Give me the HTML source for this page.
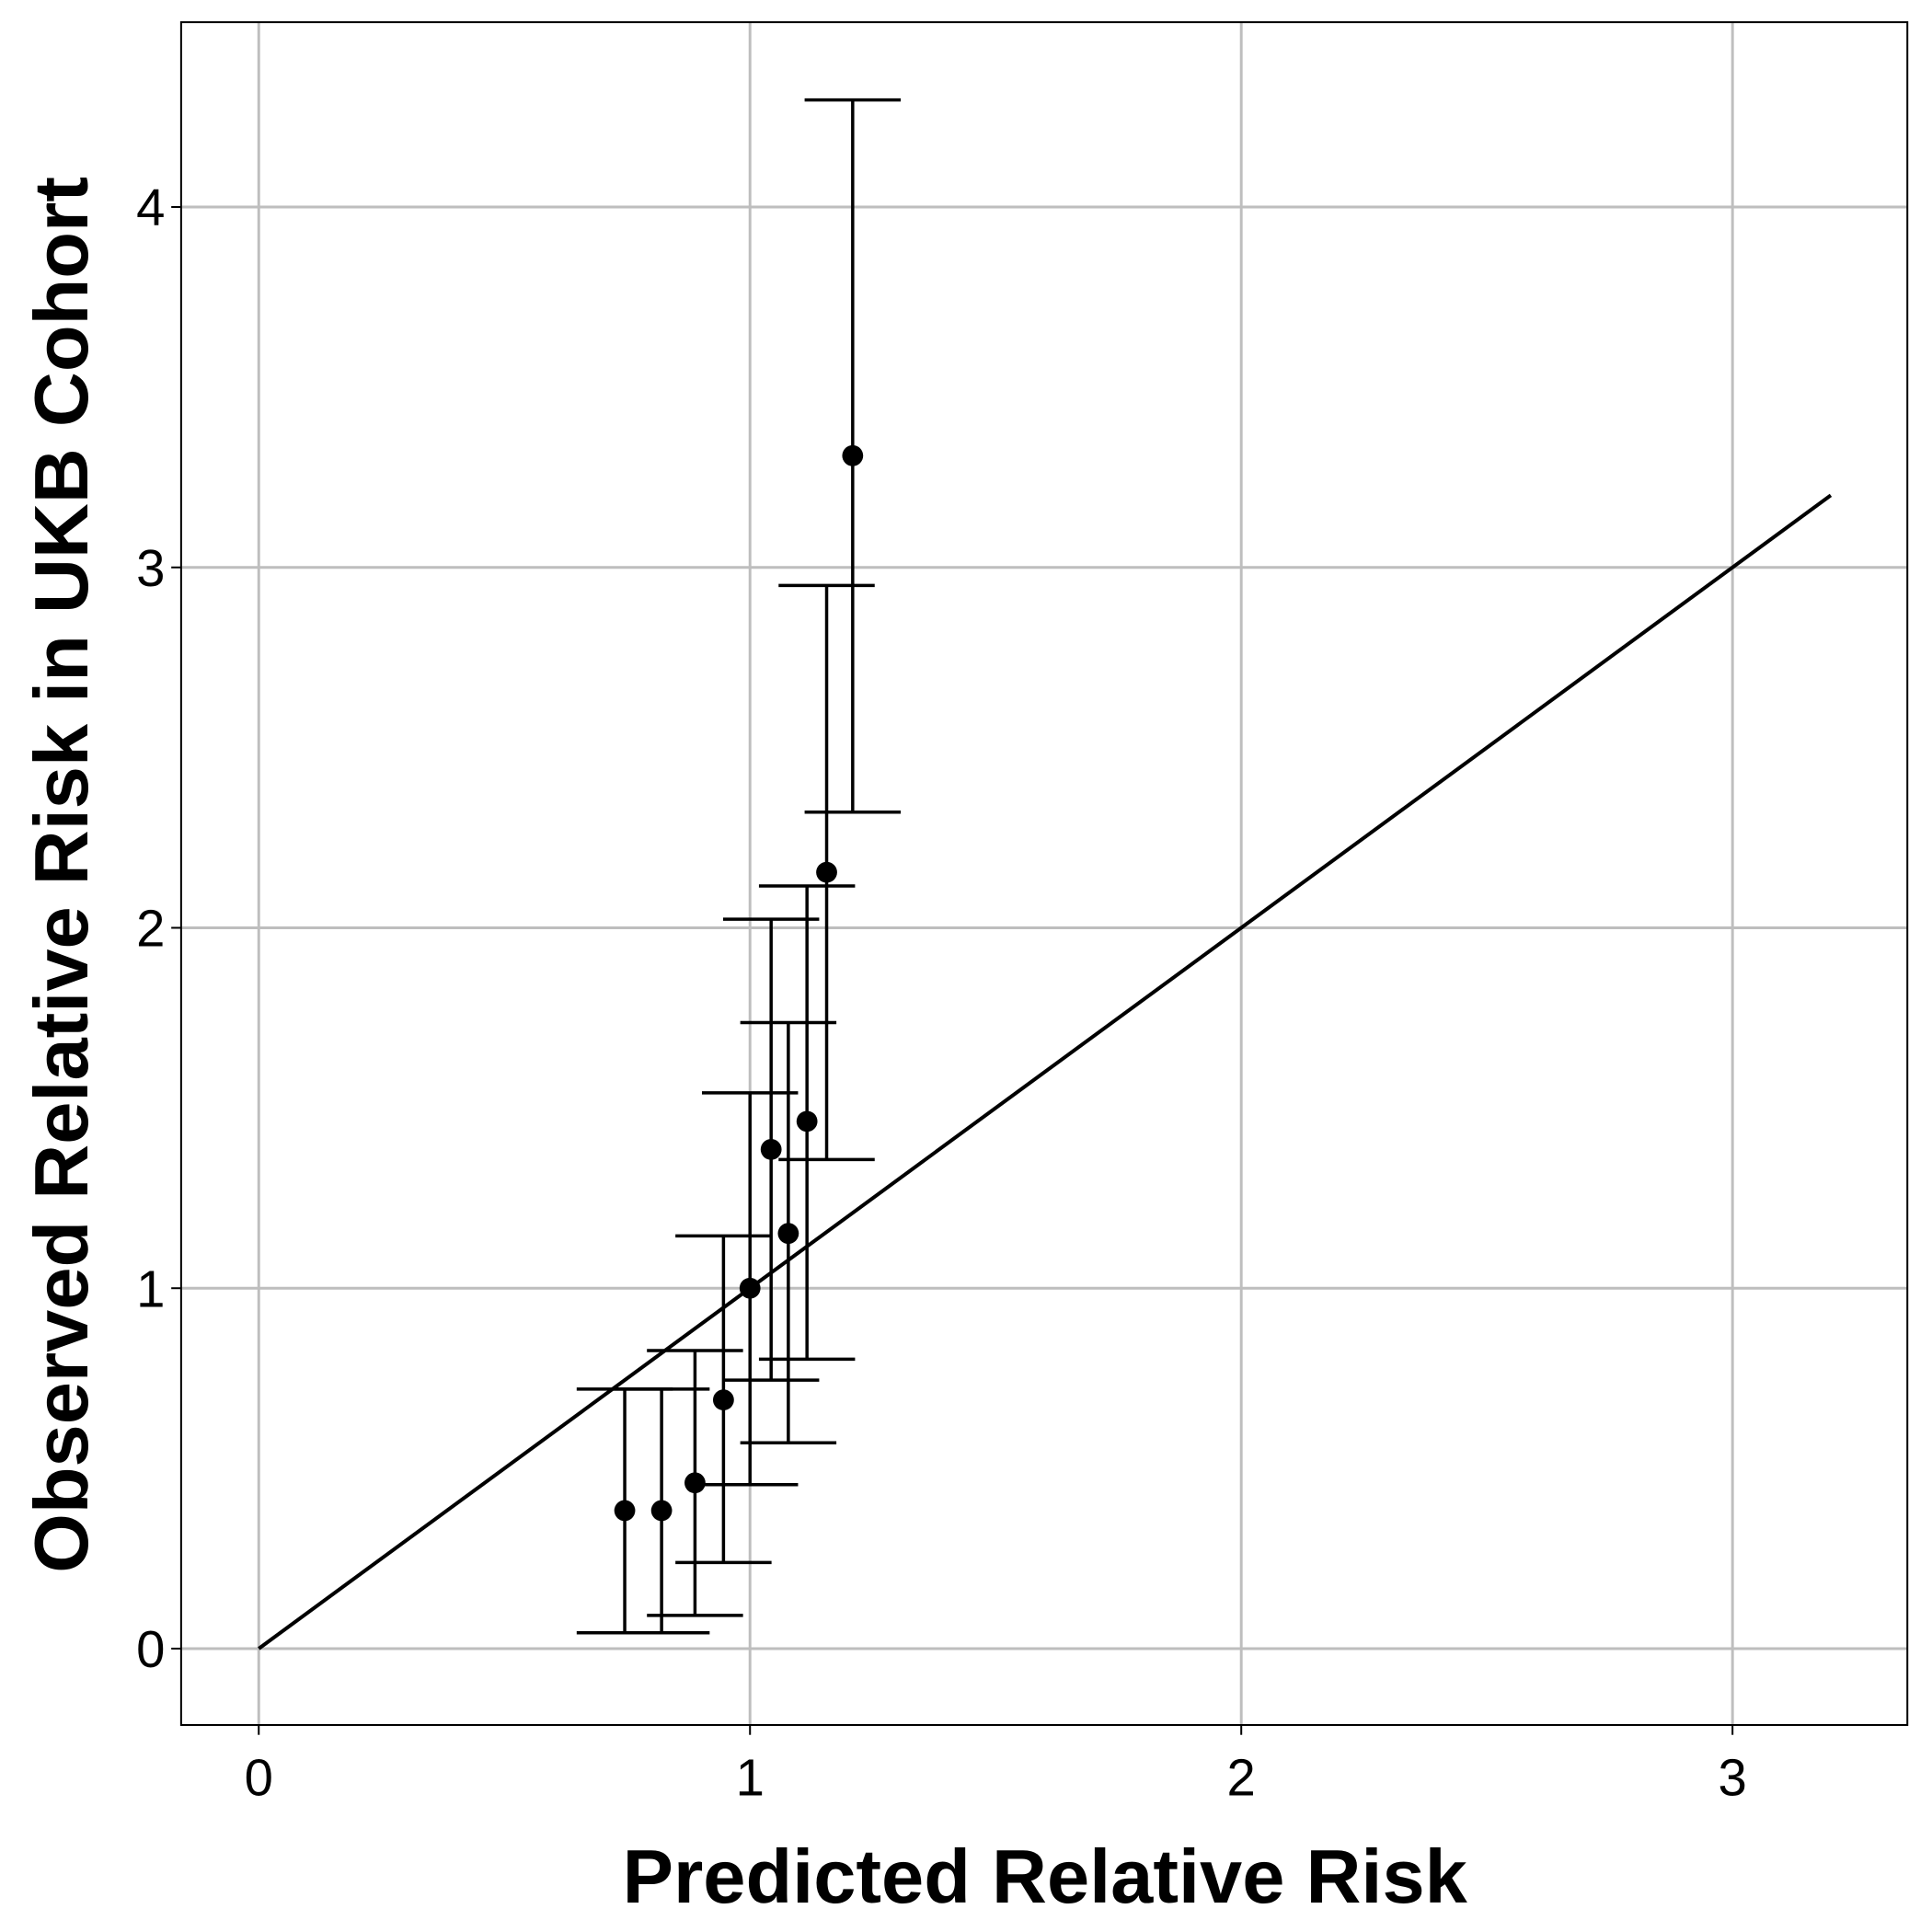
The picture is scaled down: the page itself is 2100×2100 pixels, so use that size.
<!DOCTYPE html>
<html><head><meta charset="utf-8"><style>html,body{margin:0;padding:0;background:#fff}svg{display:block}</style></head>
<body>
<svg id="chart" width="2100" height="2100" viewBox="0 0 1568 1568" xmlns="http://www.w3.org/2000/svg" font-family="Liberation Sans, sans-serif">
<g id="grid"></g>
<g id="marks"></g>
<rect x="147" y="18" width="1401" height="1382" fill="none" stroke="#000" stroke-width="1.5"/>
<g id="ticks"></g>
<text x="848" y="1544" text-anchor="middle" font-size="62" font-weight="bold">Predicted Relative Risk</text>
<text transform="translate(71,710) rotate(-90)" text-anchor="middle" font-size="62" font-weight="bold">Observed Relative Risk in UKB Cohort</text>
</svg>
<script>
const xTicks=[0,1,2,3];
const yTicks=[0,1,2,3,4];
const xPred=[0.745,0.82,0.888,0.946,1.0,1.043,1.078,1.116,1.156,1.209];
const yObs=[0.383,0.383,0.46,0.69,1.0,1.385,1.152,1.463,2.154,3.31];
const yLo=[0.044,0.044,0.092,0.239,0.455,0.745,0.571,0.803,1.357,2.321];
const yHi=[0.72,0.72,0.827,1.145,1.542,2.024,1.737,2.116,2.95,4.297];
const refLine=[0,3.2];
const NS='http://www.w3.org/2000/svg';
const sx=v=>210+v*398.7;
const sy=v=>1338-v*292.5;
function mk(parent,tag,attrs){const e=document.createElementNS(NS,tag);for(const k in attrs)e.setAttribute(k,attrs[k]);parent.appendChild(e);return e;}
const grid=document.getElementById('grid'),marks=document.getElementById('marks'),ticks=document.getElementById('ticks');
xTicks.forEach(t=>{
 const l=mk(grid,'line',{x1:sx(t),x2:sx(t),y1:18,y2:1400,stroke:'#bebebe','stroke-width':2.2});
 
 
 const tk=mk(ticks,'line',{x1:sx(t),x2:sx(t),y1:1400,y2:1408,stroke:'#000','stroke-width':1.5});
 
 
 const tx=mk(ticks,'text',{x:sx(t),y:1457,'text-anchor':'middle','font-size':42});
 tx.textContent=t;
 
 
});
yTicks.forEach(t=>{
 const l=mk(grid,'line',{x1:147,x2:1548,y1:sy(t),y2:sy(t),stroke:'#bebebe','stroke-width':2.2});
 
 
 const tk=mk(ticks,'line',{x1:139,x2:147,y1:sy(t),y2:sy(t),stroke:'#000','stroke-width':1.5});
 
 
 const tx=mk(ticks,'text',{x:134,y:sy(t)+15,'text-anchor':'end','font-size':42});
 tx.textContent=t;
 
 
});
const rl=mk(marks,'line',{x1:sx(refLine[0]),y1:sy(refLine[0]),x2:sx(refLine[1]),y2:sy(refLine[1]),stroke:'#000','stroke-width':3});


xPred.forEach((x,i)=>{
 const g=mk(marks,'g',{});
 
 
 const cx=sx(x),w=39;
 mk(g,'line',{x1:cx,x2:cx,y1:sy(yLo[i]),y2:sy(yHi[i]),stroke:'#000','stroke-width':2.6});
 mk(g,'line',{x1:cx-w,x2:cx+w,y1:sy(yLo[i]),y2:sy(yLo[i]),stroke:'#000','stroke-width':2.6});
 mk(g,'line',{x1:cx-w,x2:cx+w,y1:sy(yHi[i]),y2:sy(yHi[i]),stroke:'#000','stroke-width':2.6});
 const c=mk(marks,'circle',{cx:cx,cy:sy(yObs[i]),r:8.5,fill:'#000'});
 
 
});
</script>
</body></html>
